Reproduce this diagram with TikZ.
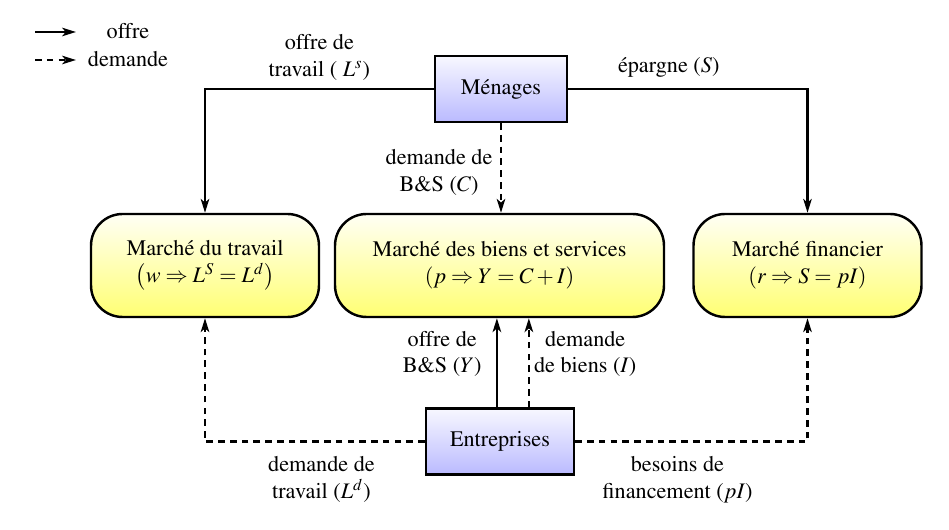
\documentclass[tikz,border=0pt]{standalone}
\usepackage{amsmath}
\usepackage[T1]{fontenc}
\usepackage{mathptmx}
\usetikzlibrary{arrows.meta}

\begin{document}
\begin{tikzpicture}[x=0.4505pt, y=-0.4505pt,
	>={Stealth[length=6.2pt, width=3.8pt, inset=1.6pt]}, line width=1.1pt,
	tirets/.style={dash pattern=on 3pt off 2.3pt},
	agent/.style={draw, rectangle, top color=blue!3, bottom color=blue!27,
		minimum width=59.5pt, minimum height=29.7pt},
	marche/.style={draw, rounded corners=5mm, top color=yellow!4,
		bottom color=yellow!55, minimum width=102.7pt,
		minimum height=46.4pt, align=center},
	lbl/.style={align=center}]
	\useasboundingbox (0,0) rectangle (949,530);
	% legende
	\coordinate (offreA) at (35,32);
	\coordinate (offreB) at (76,32);
	\coordinate (demA) at (35,60);
	\coordinate (demB) at (76,60);
	\draw [ -> ] (offreA) -- (offreB);
	\draw [ ->, tirets ] (demA) -- (demB);
	\node (offre) at (128,31) {offre};
	\node (demande) at (128,59) {demande};
	% agents
	\node [agent] (menages) at (501,89) {Ménages};
	\node [agent, minimum width=66.7pt] (entreprises) at (500,441.5)
	{Entreprises};
	% marches
	\node [marche] (travail) at (205,265.5)
	{Marché du travail\\$\left( w \Rightarrow L^S = L^d \right)$};
	\node [marche, minimum width=148.2pt] (biens) at (499.5,265.5)
	{Marché des biens et services\\$( p \Rightarrow Y = C + I )$};
	\node [marche] (financier) at (807.5,265.5)
	{Marché financier\\$( r \Rightarrow S = pI )$};
	% flux des menages
	\draw [ -> ] (menages) -| 
	node [lbl, pos=0.25, above] {offre de\\travail ( $L^s$)} 
	(travail);
	\draw [ -> ] (menages) -| 
	node [lbl, pos=0.21, above, yshift=1.5pt] {épargne ($S$)} 
	(financier);
	\draw [ ->, tirets ] (menages) -- 
	node [lbl, pos=0.55, left] {demande de\\B\&S ($C$)} 
	(menages |- biens.north);
	% flux des entreprises
	\coordinate (offreY) at ([xshift=-1.4pt]entreprises.north);
	\coordinate (demI) at ([xshift=13pt]entreprises.north);
	\draw [ -> ] (offreY) -- 
	node [lbl, pos=0.6, left, xshift=-3pt] {offre de\\B\&S ($Y$)} 
	(offreY |- biens.south);
	\draw [ ->, tirets ] (demI) -- 
	node [lbl, pos=0.6, right, xshift=-1.5pt] {demande\\de biens ($I$)} 
	(demI |- biens.south);
	\draw [ ->, tirets ] (entreprises) -| 
	node [lbl, pos=0.235, below, yshift=-3pt] {demande de\\travail ($L^d$)} 
	(travail);
	\draw [ ->, tirets ] (entreprises) -| 
	node [lbl, pos=0.22, below, yshift=-3pt] {besoins de\\financement ($pI$)} 
	(financier);
\end{tikzpicture}
\end{document}
